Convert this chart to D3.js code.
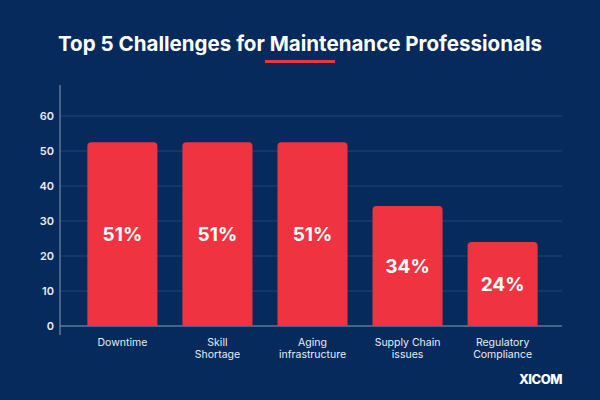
<!DOCTYPE html>
<html><head><meta charset="utf-8">
<script src="https://cdn.jsdelivr.net/npm/d3@7"></script>
<style>body{margin:0;background:#062a5c}</style>
</head><body><div class="chart"></div>
<script>
// data
const categories = [['Downtime'], ['Skill', 'Shortage'], ['Aging', 'infrastructure'], ['Supply Chain', 'issues'], ['Regulatory', 'Compliance']];
const barHeights = [52.5, 52.5, 52.5, 34.3, 24];
const barLabels = ['51%', '51%', '51%', '34%', '24%'];
const yTicks = [0, 10, 20, 30, 40, 50, 60];

const width = 600, height = 400;
const svg = d3.select('.chart').append('svg')
  .attr('width', width).attr('height', height)
  .style('font-family', 'Inter, "Open Sans", sans-serif');

svg.append('rect').attr('width', width).attr('height', height).attr('fill', '#062a5c');

// title + red underline
svg.append('text').attr('x', 300).attr('y', 51).attr('text-anchor', 'middle')
  .attr('fill', '#fff').attr('font-size', 20.5).attr('font-weight', 700)
  .attr('textLength', 484).attr('lengthAdjust', 'spacingAndGlyphs')
  .text('Top 5 Challenges for Maintenance Professionals');
svg.append('rect').attr('x', 265).attr('y', 60).attr('width', 70).attr('height', 3).attr('fill', '#ef3340');

const x = d3.scaleBand().domain(d3.range(categories.length))
  .range([75, 550]).paddingInner(0.263).paddingOuter(0.13);
const y = d3.scaleLinear().domain([0, 60]).range([326, 116]);

// grid
svg.selectAll('line.grid').data(yTicks.slice(1)).enter().append('line')
  .attr('x1', 60).attr('x2', 562)
  .attr('y1', (d) => y(d)).attr('y2', (d) => y(d))
  .attr('stroke', '#1f4478').attr('stroke-width', 1);

// axes lines
svg.append('line').attr('x1', 60).attr('x2', 60).attr('y1', 85).attr('y2', 335)
  .attr('stroke', '#8a9ab5');
svg.append('line').attr('x1', 60).attr('x2', 562).attr('y1', y(0)).attr('y2', y(0))
  .attr('stroke', '#8a9ab5');

svg.selectAll('text.ytick').data(yTicks).enter().append('text')
  .attr('x', 54).attr('y', (d) => y(d) + 4).attr('text-anchor', 'end')
  .attr('fill', '#e8ecf3').attr('font-size', 11).attr('font-weight', 600)
  .text((d) => d);

// bars
const r = 4;
svg.selectAll('path.bar').data(barHeights).enter().append('path')
  .attr('fill', '#ef3340')
  .attr('d', (d, i) => {
    const x0 = x(i), w = x.bandwidth(), top = y(d), bot = y(0);
    return `M${x0},${bot} V${top + r} Q${x0},${top} ${x0 + r},${top} H${x0 + w - r} Q${x0 + w},${top} ${x0 + w},${top + r} V${bot} Z`;
  });

svg.selectAll('text.val').data(barHeights).enter().append('text')
  .attr('x', (d, i) => x(i) + x.bandwidth() / 2)
  .attr('y', (d) => (y(d) + y(0)) / 2 + 7)
  .attr('text-anchor', 'middle').attr('fill', '#fff')
  .attr('font-size', 19).attr('font-weight', 700)
  .text((d, i) => barLabels[i]);

// x labels
const xl = svg.selectAll('text.xl').data(categories).enter().append('text')
  .attr('x', (d, i) => x(i) + x.bandwidth() / 2)
  .attr('y', 346).attr('text-anchor', 'middle')
  .attr('fill', '#e8ecf3').attr('font-size', 10.5);
xl.selectAll('tspan').data((d) => d).enter().append('tspan')
  .attr('x', function() { return this.parentNode.getAttribute('x'); })
  .attr('dy', (d, j) => (j ? 12 : 0))
  .text((d) => d);

// logo
svg.append('text').attr('x', 562).attr('y', 384).attr('text-anchor', 'end')
  .attr('fill', '#fff').attr('font-size', 13).attr('font-weight', 800)
  .attr('letter-spacing', -0.5).text('XICOM');
</script>
</body></html>
